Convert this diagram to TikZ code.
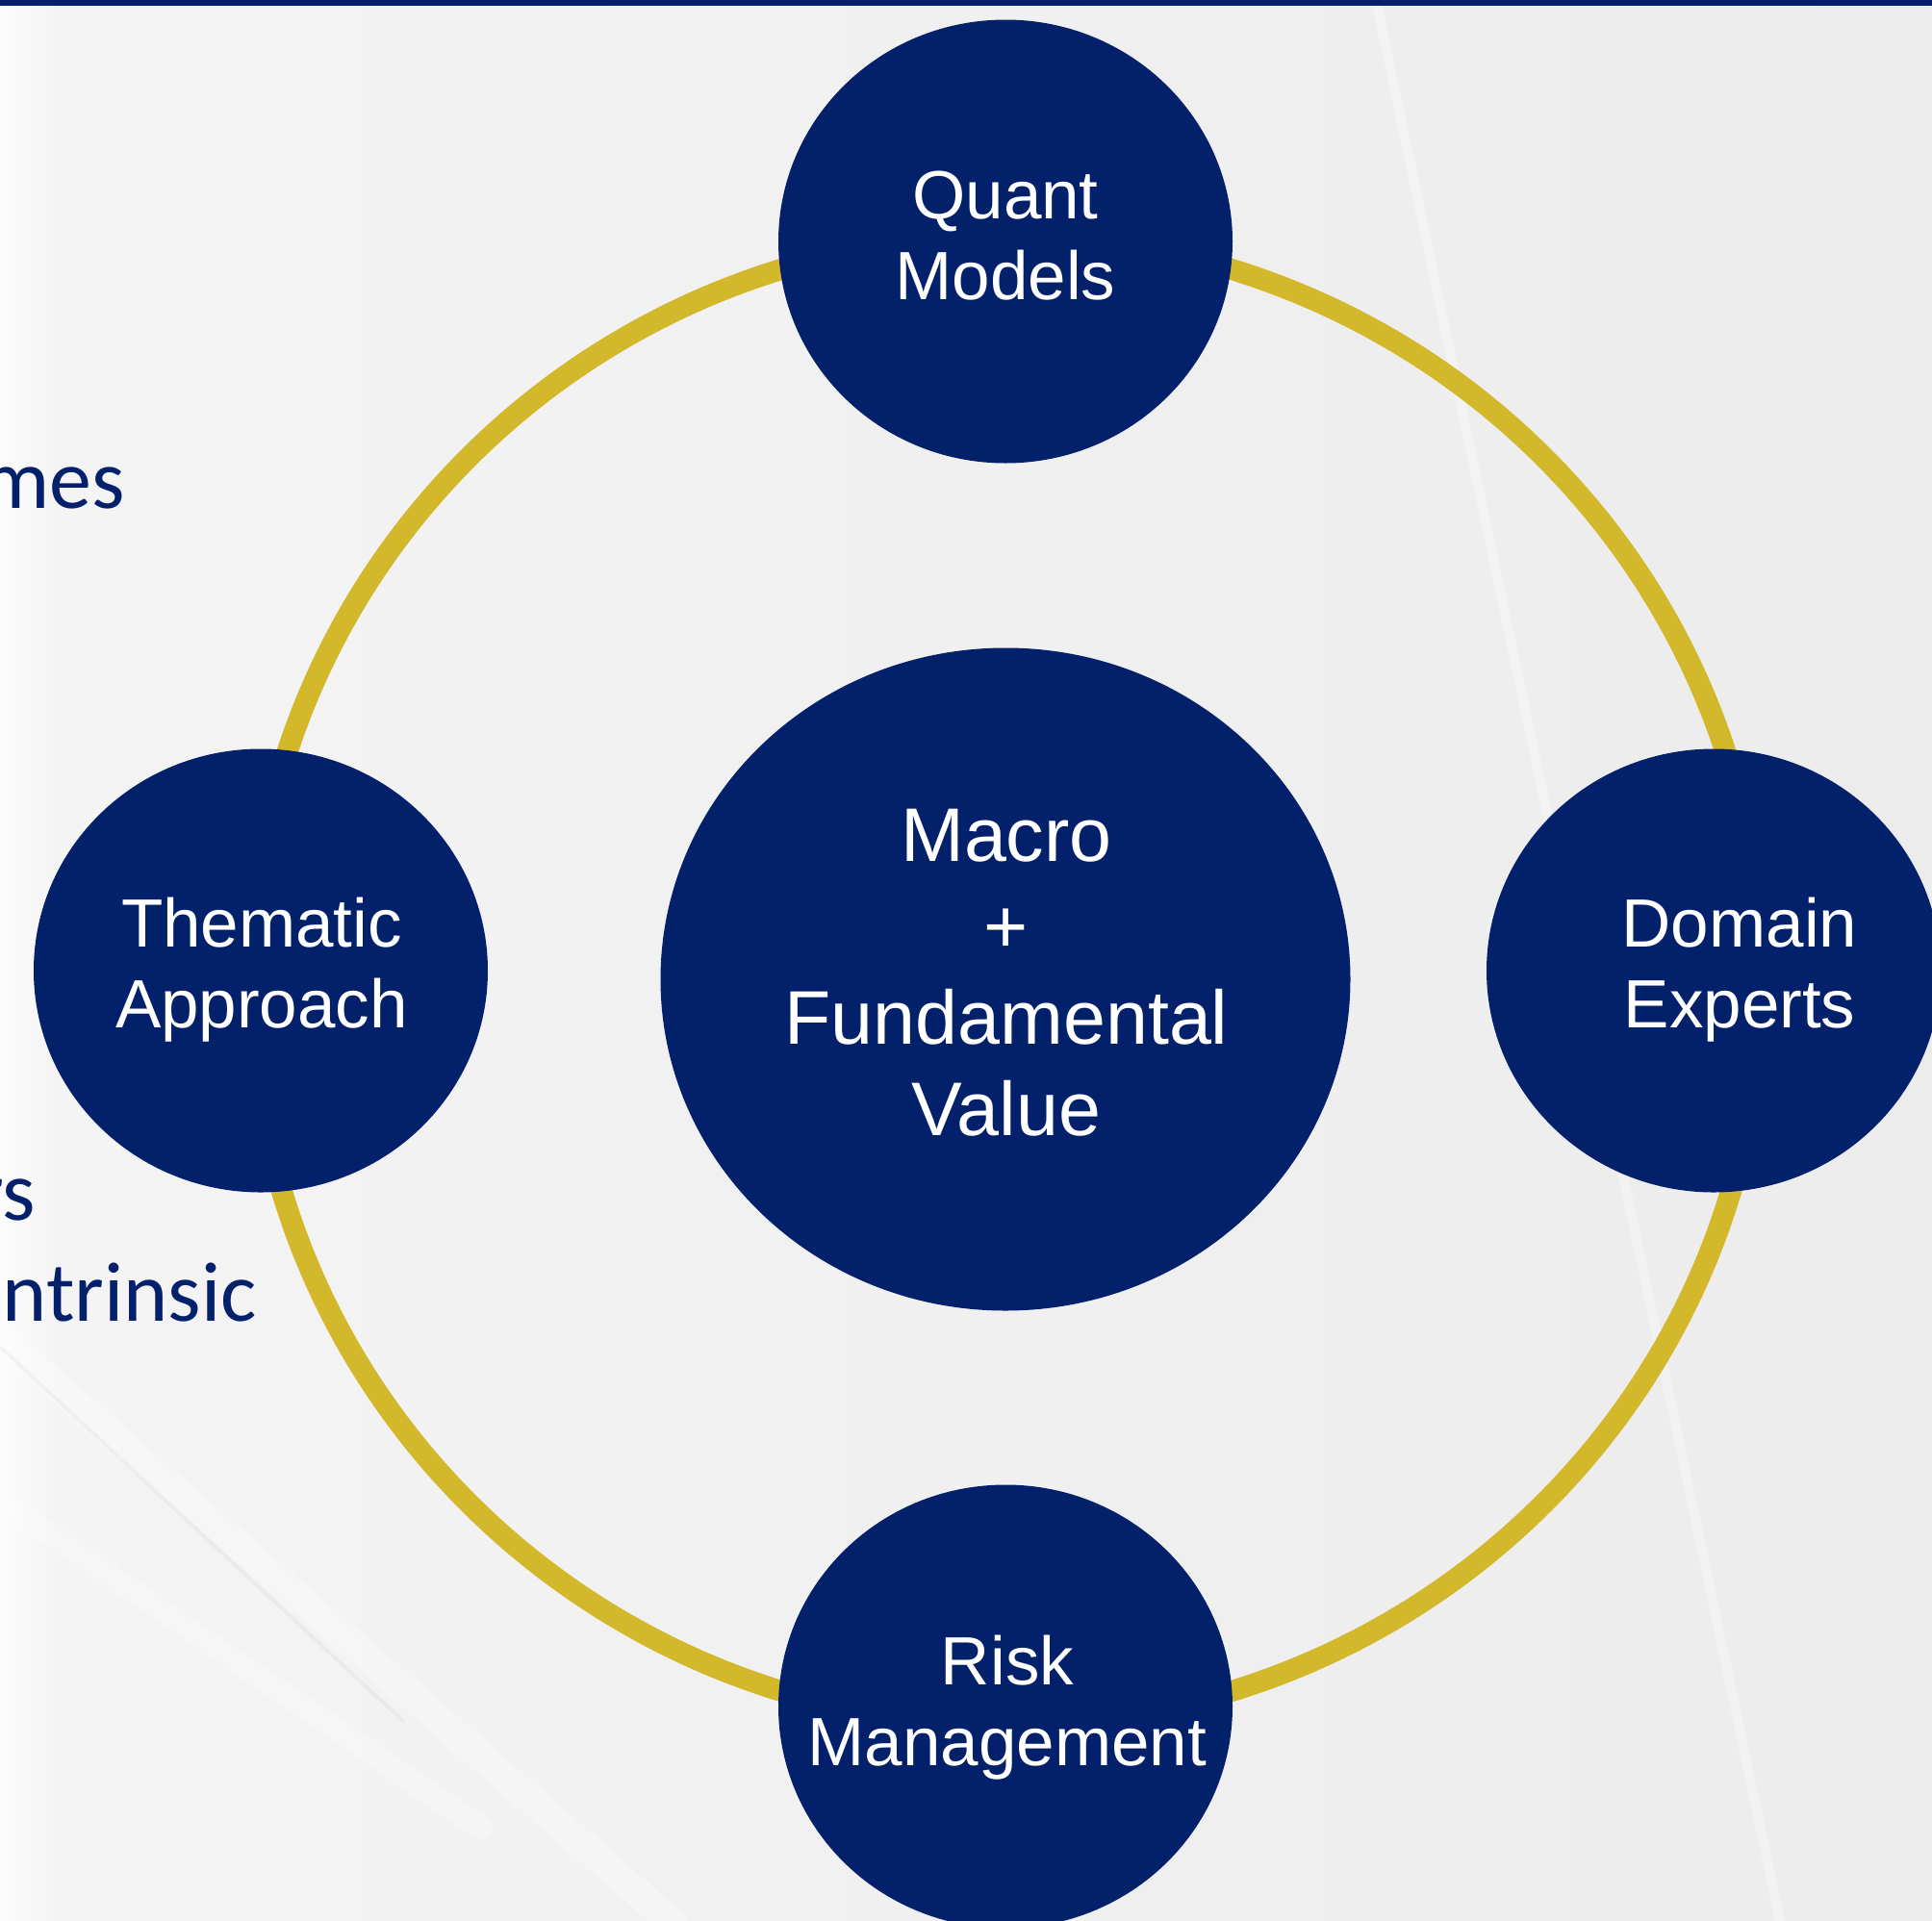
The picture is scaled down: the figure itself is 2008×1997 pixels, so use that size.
\documentclass[tikz,border=0pt]{standalone}
\usepackage{fontspec}
\setmainfont{Liberation Sans}
\newfontfamily\bodyfont{Carlito}
\usetikzlibrary{shapes.geometric}
\definecolor{navy}{RGB}{3,32,106}
\definecolor{gold}{RGB}{211,184,43}
\definecolor{bgl}{RGB}{244,244,244}
\definecolor{bgr}{RGB}{236,236,236}
\begin{document}
\begin{tikzpicture}[x=1pt,y=-1pt,
  bubble/.style={ellipse,fill=navy,draw=none,inner sep=0pt,minimum width=472pt,minimum height=461pt},
  bigbubble/.style={ellipse,fill=navy,draw=none,inner sep=0pt,minimum width=717pt,minimum height=689pt},
  lbl/.style={text=white,align=center,inner sep=0pt,font=\fontsize{71}{84.5}\selectfont},
  biglbl/.style={text=white,align=center,inner sep=0pt,font=\fontsize{79}{95}\selectfont},
  side/.style={text=navy,inner sep=0pt,anchor=base east,font=\bodyfont\fontsize{88}{105}\selectfont},
  ring/.style={draw=gold,line width=22pt},
  streak/.style={white,line cap=round}
]
\useasboundingbox (0,0) rectangle (2008,1997);
\clip (0,0) rectangle (2008,1997);
% background
\shade[left color=bgl,right color=bgr] (0,0) rectangle (2008,1997);
\shade[left color=white!70!bgl,right color=bgl] (0,0) rectangle (60,1997);
\draw[streak,line width=10pt,opacity=0.3] (1430,0) -- (1850,1997);
\draw[streak,line width=30pt,opacity=0.3] (0,1390) -- (700,2000);
\draw[black,line width=4pt,opacity=0.03] (0,1400) -- (420,1790);
\draw[streak,line width=24pt,opacity=0.25] (0,1560) -- (500,1900);
% top bar
\fill[navy] (0,0) rectangle (2008,6);
% left partial text
\node[side] (t1) at (130,528) {mes};
\node[side] (t2) at (37,1268) {rs};
\node[side] (t3) at (267,1373) {ntrinsic};
% ring
\coordinate (ringc) at (1046,1019);
\draw[ring] (ringc) ellipse [x radius=785, y radius=774];
% bubbles
\node[bubble] (quant) at (1045,251) {};
\node[bubble] (them) at (271,1009) {};
\node[bubble] (dom) at (1781,1009) {};
\node[bubble] (risk) at (1045,1774) {};
\node[bigbubble] (core) at (1045,1018) {};
% labels
\node[lbl] (quantT) at (1045,245) {Quant\\Models};
\node[lbl] (themT) at (272,1008) {Thematic\\Approach};
\node[lbl] (domT) at (1808,1008) {Domain\\Experts};
\node[lbl] (riskT) at (1047,1775) {Risk\\Management};
\node[biglbl] (coreT) at (1046,1011) {Macro\\+\\Fundamental\\Value};
\end{tikzpicture}
\end{document}
